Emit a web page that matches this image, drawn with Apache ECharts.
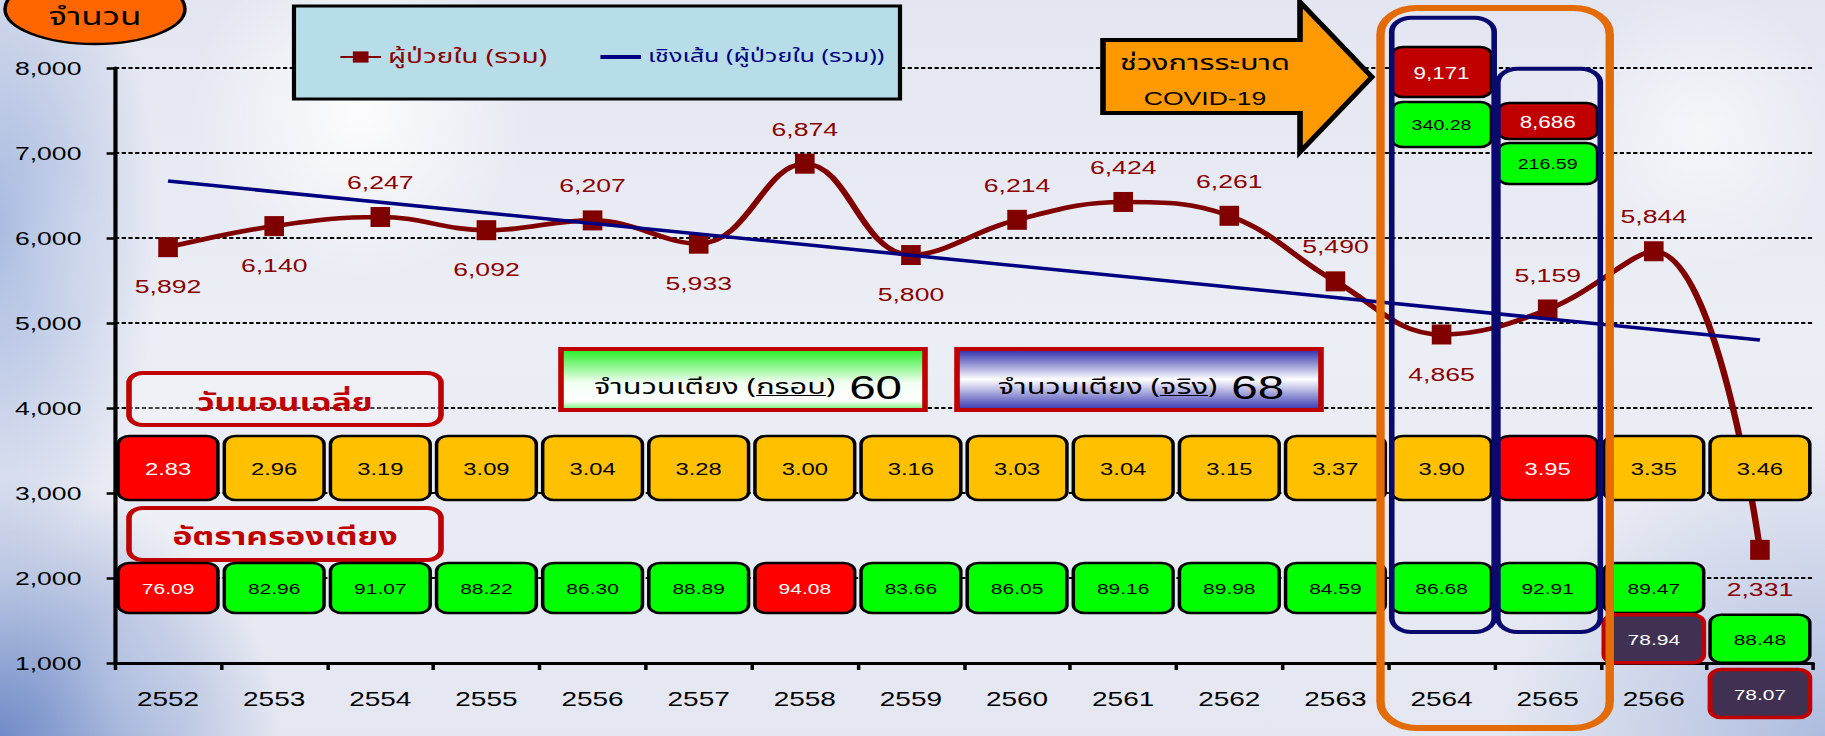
<!DOCTYPE html>
<html><head><meta charset="utf-8">
<script src="https://cdn.jsdelivr.net/npm/echarts@6/dist/echarts.min.js"></script>
<style>
html,body{margin:0;padding:0;width:1825px;height:736px;overflow:hidden;}
body{background:
 radial-gradient(ellipse 280px 260px at 0px 736px, rgba(100,130,195,0.9), rgba(100,130,195,0) 100%),
 radial-gradient(ellipse 160px 340px at 0px 230px, rgba(150,172,218,0.8), rgba(150,172,218,0) 100%),
 radial-gradient(circle 90px at 25px 250px, rgba(255,255,255,0.95), rgba(255,255,255,0) 100%),
 radial-gradient(circle 80px at 110px 690px, rgba(255,255,255,0.9), rgba(255,255,255,0) 100%),
 radial-gradient(circle 170px at 360px 110px, rgba(255,255,255,0.9), rgba(255,255,255,0) 100%),
 radial-gradient(circle 140px at 1700px 130px, rgba(255,255,255,0.6), rgba(255,255,255,0) 100%),
 radial-gradient(ellipse 320px 300px at 1825px 736px, rgba(150,170,215,0.7), rgba(150,170,215,0) 100%),
 linear-gradient(180deg, #e3e6f0 0%, #eceef5 45%, #e4e7f1 100%);}
#wrap{position:absolute;left:0;top:0;width:1304px;height:736px;transform:scaleX(1.39954);transform-origin:0 0;}
</style></head><body><div id="wrap"></div>
<script>
// ---------- data ----------
const years = ['2552','2553','2554','2555','2556','2557','2558','2559','2560','2561','2562','2563','2564','2565','2566','2567'];
const inpatients = [5892,6140,6247,6092,6207,5933,6874,5800,6214,6424,6261,5490,4865,5159,5844,2331];
const trendFirstLast = [6670, 4800];
const avgLengthOfStay = [2.83,2.96,3.19,3.09,3.04,3.28,3.00,3.16,3.03,3.04,3.15,3.37,3.90,3.95,3.35,3.46];
const occupancy60 = [76.09,82.96,91.07,88.22,86.30,88.89,94.08,83.66,86.05,89.16,89.98,84.59,86.68,92.91,89.47,88.48];
const occupancy68 = [null,null,null,null,null,null,null,null,null,null,null,null,null,null,78.94,78.07];
const covidInpatients = [null,null,null,null,null,null,null,null,null,null,null,null,9171,8686,null,null];
const covidSecond = [null,null,null,null,null,null,null,null,null,null,null,null,340.28,216.59,null,null];
const covidYears = ['2564','2565'];
const bedsFrame = 60;
const bedsActual = 68;
const yMin = 1000, yMax = 8000, yStep = 1000;

// ---------- style / layout ----------
const S = 1825/1304;
const u = x => x / S;
const NUM = '"Liberation Sans", Arial, sans-serif';
const THAI = '"Noto Sans Thai", "Noto Sans Thai UI", Tahoma, "Noto Sans", "DejaVu Sans", sans-serif';
const NAME1 = 'ผู้ป่วยใน (รวม)';
const NAME2 = 'เชิงเส้น (ผู้ป่วยใน (รวม))';
const labelSide = ['bottom','bottom','top','bottom','top','bottom','top','bottom','top','top','top','top','bottom','top','top','bottom'];
const shiftedCols = ['2567'];
const occSlots = [1882, 1285, 640];
const occSlotH = [50, 48, 48];
const covidLayout = {'2564': {lv:[7953, 7335], h:[50, 45]}, '2565': {lv:[7376, 6876], h:[36, 41]}};
const frameTop = {'2564': 8590, '2565': 7990};
const frameBottom = 1365;
const fmt = v => Number(v).toLocaleString('en-US');
const fix2 = v => Number(v).toFixed(2);

function extremes(arr){const a=arr.filter(v=>v!=null);return [Math.min(...a),Math.max(...a)];}
const losExt = extremes(avgLengthOfStay), occExt = extremes(occupancy60);

function boxSeries(name, values, cfg){
  const data=[]; values.forEach((v,i)=>{ if(v!=null) data.push([i,v]); });
  return {
    type:'custom', name, z:cfg.z||6, silent:true, clip:false, data,
    renderItem(params, api){
      const i=api.value(0), v=api.value(1);
      const L = cfg.level(i), h = cfg.h(i);
      const c = api.coord([i, L]);
      const w = api.size([1,0])[0]*0.94;
      const st = cfg.style(v,i);
      return {type:'group', children:[
        {type:'rect', shape:{x:c[0]-w/2, y:c[1]-h/2, width:w, height:h, r:8},
         style:{fill:st.fill, stroke:st.stroke, lineWidth:st.lw}},
        {type:'text', style:{x:c[0], y:c[1]+1, text:cfg.fmt(v), align:'center', verticalAlign:'middle',
          textAlign:'center', textVerticalAlign:'middle', fill:st.color, font:cfg.font}}
      ]};
    }
  };
}
const isShift = i => shiftedCols.includes(years[i]);

const series = [
  {type:'line', name:NAME1, z:3, smooth:0.4, symbol:'rect', symbolSize:[14,20],
   data: inpatients.map((v,i)=>({value:v, label:{position:labelSide[i], distance: labelSide[i]==='bottom' ? 20 : 15}})),
   lineStyle:{color:'#800000', width:4.6}, itemStyle:{color:'#800000'},
   label:{show:true, fontSize:19, color:'#8b0000', fontFamily:NUM, formatter:p=>fmt(p.value)}},
  {type:'line', name:NAME2, z:4, symbol:'none', connectNulls:true,
   data: years.map((_,i)=> i===0 ? trendFirstLast[0] : (i===years.length-1 ? trendFirstLast[1] : null)),
   lineStyle:{color:'#000080', width:3.5}, itemStyle:{color:'#000080'}},
  boxSeries('los', avgLengthOfStay, {level:()=>3294, h:()=>64, font:'17px '+NUM, fmt:fix2,
    style:v=> (v===losExt[0]||v===losExt[1]) ? {fill:'#ff0000',stroke:'#000',lw:2.5,color:'#fff'} : {fill:'#ffc000',stroke:'#000',lw:2.5,color:'#000'}}),
  boxSeries('occ60', occupancy60, {level:i=>occSlots[isShift(i)?1:0], h:i=>occSlotH[isShift(i)?1:0], font:'15px '+NUM, fmt:fix2,
    style:v=> (v===occExt[0]||v===occExt[1]) ? {fill:'#ff0000',stroke:'#000',lw:2.5,color:'#fff'} : {fill:'#00ff00',stroke:'#000',lw:2.5,color:'#000'}}),
  boxSeries('occ68', occupancy68, {level:i=>occSlots[isShift(i)?2:1], h:i=>occSlotH[isShift(i)?2:1], font:'15px '+NUM, fmt:fix2,
    style:()=>({fill:'#403152',stroke:'#c00000',lw:3.5,color:'#fff'})}),
  boxSeries('covid1', covidInpatients, {level:i=>covidLayout[years[i]].lv[0], h:i=>covidLayout[years[i]].h[0], font:'16px '+NUM, fmt:fmt,
    style:()=>({fill:'#c00000',stroke:'#000',lw:2.5,color:'#fff'})}),
  boxSeries('covid2', covidSecond, {level:i=>covidLayout[years[i]].lv[1], h:i=>covidLayout[years[i]].h[1], font:'14px '+NUM, fmt:fix2,
    style:()=>({fill:'#00ff00',stroke:'#000',lw:2.5,color:'#000'})}),
  {type:'custom', name:'covidFrames', z:8, silent:true, clip:false,
   data: covidYears.map(y=>[years.indexOf(y), 0]),
   renderItem(params, api){
     const i=api.value(0); const y=years[i];
     const t=api.coord([i, frameTop[y]]), b=api.coord([i, frameBottom]);
     const w=api.size([1,0])[0]*0.965;
     return {type:'rect', shape:{x:t[0]-w/2+1, y:t[1], width:w, height:b[1]-t[1], r:14},
       style:{fill:'none', stroke:'#0a0a6e', lineWidth:4}};
   }},
  {type:'custom', name:'covidPeriod', z:9, silent:true, clip:false,
   data: [[years.indexOf(covidYears[0]), years.indexOf(covidYears[covidYears.length-1])]],
   renderItem(params, api){
     const a=api.value(0), e=api.value(1);
     const band=api.size([1,0])[0];
     const t=api.coord([a, 8706]), b=api.coord([e, 235]);
     const x1=t[0]-band/2-u(8), x2=b[0]+band/2+u(9);
     return {type:'rect', shape:{x:x1, y:t[1], width:x2-x1, height:b[1]-t[1], r:26},
       style:{fill:'none', stroke:'#e36c09', lineWidth:6}};
   }}
];

const underline = {type:'linear', x:0, y:0, x2:0, y2:1, colorStops:[
  {offset:0, color:'rgba(0,0,0,0)'}, {offset:0.86, color:'rgba(0,0,0,0)'}, {offset:0.86, color:'#000'},
  {offset:0.93, color:'#000'}, {offset:0.93, color:'rgba(0,0,0,0)'}, {offset:1, color:'rgba(0,0,0,0)'}]};
const bedRich = {
  t:{fontSize:22, fontFamily:THAI, fill:'#000', color:'#000'},
  u:{fontSize:22, fontFamily:THAI, fill:'#000', color:'#000', backgroundColor:underline},
  n:{fontSize:34, fontFamily:NUM, fill:'#000', color:'#000'}
};
const ctr = {align:'center', verticalAlign:'middle', textAlign:'center', textVerticalAlign:'middle'};

const graphic = [
  // top-left oval
  {type:'ellipse', z:1, shape:{cx:u(95), cy:9, rx:u(90), ry:35}, style:{fill:'#ff6600', stroke:'#000', lineWidth:2.5}},
  {type:'text', z:2, style:Object.assign({x:u(95), y:18, text:'จำนวน', font:'25px '+THAI, fill:'#000'}, ctr)},
  // legend box
  {type:'rect', z:1, shape:{x:u(294), y:6, width:u(606), height:93}, style:{fill:'#b7dde8', stroke:'#000', lineWidth:3}},
  // covid arrow
  {type:'polygon', z:1, shape:{points:[[u(1103),40],[u(1300),40],[u(1300),2],[u(1372),77],[u(1300),152],[u(1300),113],[u(1103),113]]},
   style:{fill:'#ff9900', stroke:'#000', lineWidth:4}},
  {type:'text', z:2, style:Object.assign({x:u(1205), y:63, text:'ช่วงการระบาด', font:'22px '+THAI, fill:'#000'}, ctr)},
  {type:'text', z:2, style:Object.assign({x:u(1205), y:98, text:'COVID-19', font:'19px '+NUM, fill:'#000'}, ctr)},
  // row titles
  {type:'rect', z:1, shape:{x:u(129), y:373, width:u(312), height:52, r:10}, style:{fill:'rgba(255,255,255,0.25)', stroke:'#c00000', lineWidth:4}},
  {type:'text', z:2, style:Object.assign({x:u(285), y:404, text:'วันนอนเฉลี่ย', font:'bold 24px '+THAI, fill:'#c00000'}, ctr)},
  {type:'rect', z:1, shape:{x:u(129), y:508, width:u(312), height:52, r:10}, style:{fill:'rgba(255,255,255,0.25)', stroke:'#c00000', lineWidth:4}},
  {type:'text', z:2, style:Object.assign({x:u(285), y:538, text:'อัตราครองเตียง', font:'bold 24px '+THAI, fill:'#c00000'}, ctr)},
  // beds boxes
  {type:'rect', z:1, shape:{x:u(561), y:349, width:u(364), height:61},
   style:{stroke:'#c00000', lineWidth:4, fill:{type:'linear',x:0,y:0,x2:0,y2:1,colorStops:[{offset:0,color:'#22ee22'},{offset:0.55,color:'#f2fff2'},{offset:0.85,color:'#ffffff'},{offset:1,color:'#66ee66'}]}}},
  {type:'text', z:2, style:Object.assign({x:u(748), y:387, text:'{t|จำนวนเตียง (}{u|กรอบ}{t|)}   {n|'+bedsFrame+'}', rich:bedRich}, ctr)},
  {type:'rect', z:1, shape:{x:u(957), y:349, width:u(364), height:61},
   style:{stroke:'#c00000', lineWidth:4, fill:{type:'linear',x:0,y:0,x2:0,y2:1,colorStops:[{offset:0,color:'#2a2aaa'},{offset:0.5,color:'#ffffff'},{offset:1,color:'#3434b0'}]}}},
  {type:'text', z:2, style:Object.assign({x:u(1141), y:387, text:'{t|จำนวนเตียง (}{u|จริง}{t|)}   {n|'+bedsActual+'}', rich:bedRich}, ctr)}
];

const chart = echarts.init(document.getElementById('wrap'), null, {renderer:'svg'});
chart.setOption({
  animation:false,
  backgroundColor:'transparent',
  grid:{left:u(115), right:u(12), top:68, bottom:73, containLabel:false},
  legend:{z:20, left:u(332), top:42, itemGap:38, itemWidth:29, itemHeight:14,
    data:[{name:NAME1, textStyle:{color:'#8b0000', fontSize:20}},
          {name:NAME2, icon:'path://M0,0L29,0L29,4L0,4Z', itemStyle:{color:'#000080'}, textStyle:{color:'#000080', fontSize:18}}],
    textStyle:{fontSize:19, fontFamily:THAI}},
  xAxis:{type:'category', data:years, boundaryGap:true,
    axisLine:{lineStyle:{color:'#000', width:3}},
    axisTick:{show:true, length:7, lineStyle:{color:'#000', width:2.5}},
    axisLabel:{interval:0, fontSize:20, color:'#000', fontFamily:NUM, margin:26, formatter:(v,i)=> i===years.length-1 ? '' : v},
    splitLine:{show:false}},
  yAxis:{type:'value', min:yMin, max:yMax, interval:yStep,
    axisLine:{show:true, lineStyle:{color:'#000', width:3}},
    axisTick:{show:true, length:6, lineStyle:{color:'#000', width:2.5}},
    axisLabel:{fontSize:19, color:'#000', fontFamily:NUM, margin:24, formatter:v=>fmt(v)},
    splitLine:{show:true, lineStyle:{color:'#000', width:2, type:[3,1.8]}}},
  graphic,
  series
});
</script></body></html>
